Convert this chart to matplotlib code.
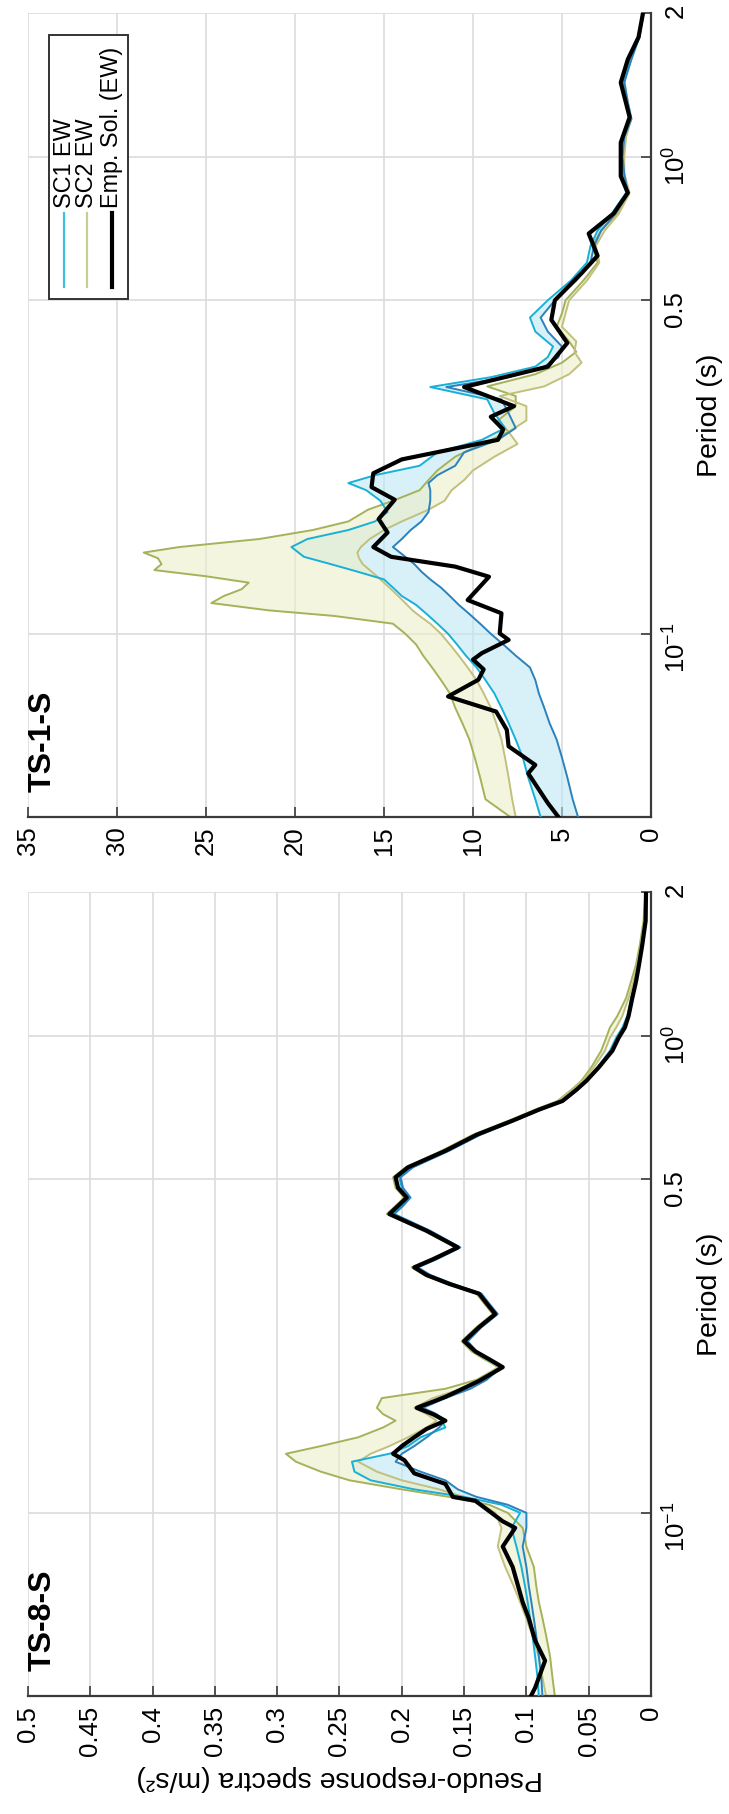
"""
plot.py - pseudo-response spectra, TS-1-S / TS-8-S (page rotated, period on the vertical axis)
"""

import numpy as np
import matplotlib
matplotlib.use('Agg')
import matplotlib.pyplot as plt
from matplotlib.patches import Rectangle
from matplotlib.lines import Line2D
from matplotlib.ticker import NullLocator

plt.rcParams['font.family'] = ['Liberation Sans', 'DejaVu Sans']
plt.rcParams['mathtext.fontset'] = 'custom'
plt.rcParams['mathtext.rm'] = 'Liberation Sans'
plt.rcParams['mathtext.it'] = 'Liberation Sans:italic'
plt.rcParams['mathtext.bf'] = 'Liberation Sans:bold'

# ====================================================================
# data: TS-1-S (m/s^2)
# ====================================================================
t1_sc1 = [0.0413, 0.045, 0.05, 0.055, 0.06, 0.065, 0.07, 0.075, 0.08, 0.085,
          0.09, 0.095, 0.1, 0.105, 0.11, 0.115, 0.12, 0.125, 0.13, 0.135,
          0.14, 0.145, 0.152, 0.158, 0.165, 0.172, 0.18, 0.19, 0.2, 0.207,
          0.215, 0.225, 0.24, 0.255, 0.27, 0.29, 0.31, 0.329, 0.345, 0.363,
          0.38, 0.4, 0.43, 0.46, 0.5, 0.55, 0.6, 0.65, 0.7, 0.76,
          0.84, 0.92, 1.0, 1.1, 1.2, 1.3, 1.43, 1.6, 1.78, 2.0]
ts1_sc1_a = [6.2, 6.5, 6.9, 7.2, 7.6, 8.0, 8.4, 8.8, 9.3, 9.8,
             10.4, 10.9, 11.4, 12.0, 12.6, 13.2, 14.0, 14.5, 15.0, 16.5,
             18.0, 19.5, 20.2, 19.3, 17.0, 15.5, 14.8, 15.2, 16.0, 17.0,
             15.5, 13.0, 12.0, 9.5, 8.2, 8.8, 9.2, 12.4, 9.0, 6.5,
             5.8, 5.5, 6.5, 6.8, 5.8, 4.5, 3.6, 3.4, 3.0, 2.2,
             1.4, 1.6, 1.7, 1.6, 1.2, 1.4, 1.6, 1.2, 0.7, 0.45]
ts1_sc1_b = [4.1, 4.4, 4.7, 5.0, 5.3, 5.7, 6.0, 6.3, 6.5, 6.8,
             7.6, 8.3, 9.0, 9.6, 10.2, 10.8, 11.3, 11.8, 12.4, 12.9,
             13.3, 13.8, 14.5, 14.0, 13.5, 12.9, 12.5, 12.4, 12.4, 12.5,
             12.0, 11.0, 10.5, 8.6, 7.6, 8.0, 8.4, 11.5, 8.0, 6.0,
             5.2, 5.0, 5.8, 6.2, 5.4, 4.2, 3.4, 3.2, 2.8, 2.0,
             1.3, 1.5, 1.6, 1.5, 1.1, 1.3, 1.5, 1.1, 0.65, 0.42]

t1_sc2 = [0.0413, 0.045, 0.05, 0.055, 0.06, 0.065, 0.07, 0.075, 0.08, 0.085,
          0.09, 0.095, 0.1, 0.105, 0.109, 0.112, 0.116, 0.12, 0.124, 0.128,
          0.132, 0.136, 0.14, 0.144, 0.148, 0.152, 0.158, 0.165, 0.172, 0.182,
          0.19, 0.2, 0.21, 0.22, 0.235, 0.25, 0.265, 0.28, 0.3, 0.315,
          0.33, 0.35, 0.37, 0.39, 0.41, 0.44, 0.47, 0.5, 0.55, 0.6,
          0.65, 0.7, 0.76, 0.84, 0.92, 1.0, 1.1, 1.2, 1.3, 1.45,
          1.6, 1.8, 2.0]
ts1_sc2_a = [7.9, 9.3, 9.6, 9.9, 10.2, 10.6, 11.0, 11.3, 11.8, 12.3,
             12.8, 13.2, 13.8, 14.5, 17.8, 21.5, 24.7, 24.0, 23.0, 22.6,
             25.0, 27.9, 27.5, 27.7, 28.5, 26.5, 22.0, 19.0, 17.0, 15.9,
             14.5, 13.0, 12.5, 12.0, 11.0, 9.5, 8.0, 8.6, 7.6, 7.6,
             9.2, 6.5, 5.0, 4.2, 4.6, 5.3, 5.0, 4.8, 3.8, 3.0,
             3.3, 2.8, 1.9, 1.3, 1.6, 1.6, 1.5, 1.2, 1.4, 1.6,
             1.2, 0.7, 0.45]
ts1_sc2_b = [7.6, 7.8, 8.0, 8.2, 8.4, 8.7, 9.0, 9.4, 9.8, 10.3,
             10.8, 11.3, 11.8, 12.4, 13.0, 13.4, 13.8, 14.2, 14.6, 15.0,
             15.4, 15.8, 16.2, 16.4, 16.5, 16.3, 15.8, 15.0, 14.0, 12.5,
             11.6, 11.2, 10.5, 10.0, 8.8, 7.5, 8.0, 7.0, 7.0, 8.5,
             6.0, 4.6, 3.9, 4.3, 4.2, 5.0, 4.8, 4.6, 3.6, 2.9,
             3.1, 2.6, 1.8, 1.2, 1.5, 1.5, 1.4, 1.1, 1.3, 1.5,
             1.1, 0.65, 0.42]

t1_emp = [0.0413, 0.0442, 0.051, 0.0531, 0.0581, 0.0629, 0.0687, 0.0739, 0.0801, 0.0842,
          0.0883, 0.0911, 0.0971, 0.1002, 0.1104, 0.1177, 0.1317, 0.1383, 0.145, 0.152,
          0.163, 0.174, 0.191, 0.203, 0.217, 0.232, 0.255, 0.268, 0.285, 0.30,
          0.329, 0.363, 0.407, 0.455, 0.50, 0.57, 0.62, 0.69, 0.76, 0.84,
          0.91, 1.07, 1.21, 1.43, 1.6, 1.78, 2.0]
ts1_emp = [5.2, 5.8, 6.9, 6.5, 8.0, 8.1, 8.7, 11.4, 9.7, 9.4,
           10.0, 9.5, 8.0, 8.5, 8.4, 10.3, 9.1, 11.0, 14.6, 15.6,
           14.8, 15.3, 14.4, 15.7, 15.6, 14.0, 8.6, 8.3, 9.0, 7.7,
           10.5, 5.8, 4.7, 5.6, 5.4, 3.9, 3.0, 3.5, 2.1, 1.3,
           1.7, 1.7, 1.2, 1.7, 1.3, 0.7, 0.45]

# ====================================================================
# data: TS-8-S (m/s^2)
# ====================================================================
t8_sc = [0.041, 0.045, 0.05, 0.055, 0.06, 0.065, 0.07, 0.077, 0.085, 0.093,
         0.1, 0.104, 0.108, 0.112, 0.117, 0.122, 0.128, 0.133, 0.138, 0.144,
         0.151, 0.156, 0.161, 0.166, 0.174, 0.182, 0.19, 0.202, 0.21, 0.218,
         0.229, 0.245, 0.261, 0.275, 0.288, 0.302, 0.315, 0.327, 0.34, 0.36,
         0.39, 0.423, 0.44, 0.458, 0.48, 0.505, 0.53, 0.574, 0.62, 0.664,
         0.7, 0.73, 0.77, 0.804, 0.858, 0.93, 0.99, 1.04, 1.1, 1.2,
         1.3, 1.41, 1.55, 1.74, 2.0]
ts8_sc1_a = [0.090, 0.091, 0.093, 0.095, 0.097, 0.099, 0.101, 0.104, 0.108, 0.112,
             0.105, 0.12, 0.15, 0.19, 0.225, 0.238, 0.24, 0.21, 0.195, 0.185,
             0.165, 0.168, 0.175, 0.185, 0.17, 0.15, 0.135, 0.121, 0.132, 0.142,
             0.148, 0.137, 0.124, 0.131, 0.137, 0.16, 0.178, 0.188, 0.173, 0.154,
             0.178, 0.207, 0.2, 0.194, 0.2, 0.202, 0.192, 0.163, 0.138, 0.11,
             0.089, 0.071, 0.06, 0.052, 0.043, 0.033, 0.028, 0.023, 0.019, 0.016,
             0.012, 0.01, 0.0075, 0.0048, 0.004]
ts8_sc1_b = [0.087, 0.088, 0.09, 0.092, 0.094, 0.096, 0.098, 0.1, 0.103, 0.1,
             0.1, 0.115, 0.14, 0.155, 0.165, 0.185, 0.205, 0.2, 0.19, 0.18,
             0.17, 0.165, 0.172, 0.183, 0.165, 0.145, 0.132, 0.12, 0.13, 0.14,
             0.147, 0.136, 0.123, 0.13, 0.136, 0.159, 0.177, 0.187, 0.172, 0.153,
             0.177, 0.206, 0.199, 0.193, 0.199, 0.201, 0.191, 0.162, 0.137, 0.109,
             0.088, 0.07, 0.059, 0.051, 0.042, 0.032, 0.027, 0.022, 0.018, 0.015,
             0.012, 0.0095, 0.007, 0.0045, 0.004]
ts8_sc2_a = [0.077, 0.079, 0.081, 0.084, 0.087, 0.09, 0.092, 0.094, 0.1, 0.103,
             0.115, 0.13, 0.162, 0.2, 0.242, 0.265, 0.285, 0.293, 0.265, 0.235,
             0.215, 0.205, 0.215, 0.22, 0.216, 0.165, 0.14, 0.122, 0.134, 0.144,
             0.152, 0.14, 0.127, 0.134, 0.14, 0.164, 0.182, 0.192, 0.177, 0.157,
             0.182, 0.212, 0.205, 0.198, 0.205, 0.207, 0.197, 0.168, 0.143, 0.114,
             0.093, 0.075, 0.064, 0.056, 0.048, 0.04, 0.036, 0.033, 0.027, 0.02,
             0.016, 0.012, 0.009, 0.006, 0.0045]
ts8_sc2_b = [0.084, 0.087, 0.09, 0.095, 0.1, 0.105, 0.11, 0.117, 0.123, 0.12,
             0.125, 0.135, 0.15, 0.17, 0.2, 0.22, 0.235, 0.225, 0.21, 0.195,
             0.18, 0.172, 0.18, 0.19, 0.175, 0.152, 0.137, 0.123, 0.133, 0.143,
             0.15, 0.139, 0.126, 0.133, 0.139, 0.163, 0.181, 0.191, 0.176, 0.156,
             0.181, 0.211, 0.204, 0.197, 0.204, 0.206, 0.196, 0.167, 0.142, 0.113,
             0.092, 0.074, 0.063, 0.055, 0.046, 0.037, 0.033, 0.028, 0.023, 0.018,
             0.014, 0.011, 0.008, 0.005, 0.0042]

t8_emp = [0.041, 0.043, 0.049, 0.054, 0.06, 0.065, 0.077, 0.085, 0.093, 0.096,
          0.1, 0.106, 0.108, 0.115, 0.121, 0.125, 0.129, 0.133, 0.138, 0.144,
          0.15, 0.156, 0.161, 0.166, 0.175, 0.189, 0.202, 0.21, 0.218, 0.229,
          0.245, 0.261, 0.275, 0.288, 0.302, 0.315, 0.327, 0.34, 0.36, 0.39,
          0.423, 0.44, 0.458, 0.48, 0.505, 0.53, 0.574, 0.62, 0.664, 0.7,
          0.73, 0.77, 0.804, 0.858, 0.93, 0.99, 1.04, 1.1, 1.2, 1.3,
          1.41, 1.55, 1.74, 2.0]
ts8_emp = [0.097, 0.093, 0.085, 0.093, 0.098, 0.103, 0.111, 0.119, 0.109, 0.119,
           0.128, 0.141, 0.159, 0.165, 0.19, 0.194, 0.198, 0.207, 0.2, 0.19,
           0.18, 0.165, 0.175, 0.188, 0.165, 0.138, 0.119, 0.13, 0.141, 0.15,
           0.138, 0.125, 0.132, 0.138, 0.162, 0.18, 0.19, 0.175, 0.155, 0.18,
           0.21, 0.203, 0.196, 0.203, 0.205, 0.195, 0.165, 0.14, 0.111, 0.09,
           0.071, 0.06, 0.052, 0.042, 0.031, 0.026, 0.021, 0.018, 0.015, 0.012,
           0.0096, 0.007, 0.0043, 0.004]

# ticks / labels
period_ticks = [0.1, 0.5, 1.0, 2.0]
period_labels = ['$10^{-1}$', '0.5', '$10^{0}$', '2']
ts1_ticks = [0, 5, 10, 15, 20, 25, 30, 35]
ts8_ticks = [0, 0.05, 0.1, 0.15, 0.2, 0.25, 0.3, 0.35, 0.4, 0.45, 0.5]
ts8_tick_labels = ['0', '0.05', '0.1', '0.15', '0.2', '0.25', '0.3', '0.35', '0.4', '0.45', '0.5']
legend_labels = ['SC1 EW', 'SC2 EW', 'Emp. Sol. (EW)']

# colours
C_SC1A = '#18b0d6'
C_SC1B = '#2b82bd'
C_SC2A = '#a6b25a'
C_SC2B = '#c2c07e'
C_FILL1 = '#bfe8f4'
C_FILL2 = '#ecefc8'
C_EMP = '#000000'
C_AX = '#3a3a3a'
C_GRID = '#dcdcdc'

TICK_FS = 18.5
LABEL_FS = 20.5


def draw_panel(ax, t_sc1, sc1_a, sc1_b, t_sc2, sc2_a, sc2_b, t_emp, emp, xmax, xticks, xlabels):
    """one spectrum panel: response on the (reversed) horizontal axis, period vertical"""
    ax.fill_betweenx(t_sc1, sc1_a, sc1_b, color=C_FILL1, alpha=0.6, lw=0, zorder=1)
    ax.fill_betweenx(t_sc2, sc2_a, sc2_b, color=C_FILL2, alpha=0.6, lw=0, zorder=1)
    ax.plot(sc2_a, t_sc2, color=C_SC2A, lw=1.4, zorder=2)
    ax.plot(sc2_b, t_sc2, color=C_SC2B, lw=1.4, zorder=2)
    ax.plot(sc1_a, t_sc1, color=C_SC1A, lw=1.4, zorder=3)
    ax.plot(sc1_b, t_sc1, color=C_SC1B, lw=1.4, zorder=3)
    ax.plot(emp, t_emp, color=C_EMP, lw=3.0, zorder=4)

    ax.set_yscale('log')
    ax.set_ylim(0.0413, 2.0)
    ax.set_xlim(xmax, 0)

    ax.set_yticks(period_ticks)
    ax.set_yticklabels(period_labels)
    ax.yaxis.set_minor_locator(NullLocator())
    ax.yaxis.tick_right()
    ax.set_xticks(xticks)
    ax.set_xticklabels(xlabels)

    ax.tick_params(axis='y', direction='in', length=7, width=1.2, color=C_AX,
                   labelsize=TICK_FS, pad=9, labelrotation=90)
    ax.tick_params(axis='x', direction='in', length=7, width=1.2, color=C_AX,
                   labelsize=TICK_FS, pad=7, labelrotation=90)

    ax.grid(True, which='major', color=C_GRID, lw=1.2, zorder=0)
    ax.set_axisbelow(True)
    for side in ('top', 'left'):
        ax.spines[side].set_visible(False)
    for side in ('bottom', 'right'):
        ax.spines[side].set_color(C_AX)
        ax.spines[side].set_linewidth(1.6)


fig = plt.figure(figsize=(7.29, 18.14), dpi=100)
ax1 = fig.add_axes([0.0384, 0.5496, 0.8546, 0.4432])   # TS-1-S
ax2 = fig.add_axes([0.0384, 0.0650, 0.8546, 0.4432])   # TS-8-S

draw_panel(ax1, t1_sc1, ts1_sc1_a, ts1_sc1_b, t1_sc2, ts1_sc2_a, ts1_sc2_b,
           t1_emp, ts1_emp, 35, ts1_ticks, [str(v) for v in ts1_ticks])
draw_panel(ax2, t8_sc, ts8_sc1_a, ts8_sc1_b, t8_sc, ts8_sc2_a, ts8_sc2_b,
           t8_emp, ts8_emp, 0.5, ts8_ticks, ts8_tick_labels)

# panel names
for ax, name in ((ax1, 'TS-1-S'), (ax2, 'TS-8-S')):
    ax.text(0.0, 0.031, name, rotation=90, ha='left', va='bottom',
            transform=ax.transAxes, fontsize=23, fontweight='bold', zorder=6)

# axis titles (page is rotated)
fig.text(710 / 729, 0.7712, 'Period (s)', rotation=90, ha='center', va='center', fontsize=LABEL_FS)
fig.text(710 / 729, 0.2867, 'Period (s)', rotation=90, ha='center', va='center', fontsize=LABEL_FS)
fig.text(0.4664, 0.0198, 'Pseudo-response spectra (m/s²)', rotation=180,
         ha='center', va='center', fontsize=LABEL_FS)

# legend drawn by hand so that it turns with the page
ax1.add_patch(Rectangle((0.0337, 0.6443), 0.1268, 0.3283, transform=ax1.transAxes,
                        facecolor='white', edgecolor='#333333', lw=1.4, zorder=7))
leg_x = [0.0578, 0.0947, 0.1348]
leg_style = [('#3cc3dd', 1.6), ('#c8cc96', 1.6), ('#000000', 3.0)]
for x, (col, lw), lab in zip(leg_x, leg_style, legend_labels):
    ax1.add_line(Line2D([x, x], [0.659, 0.751], color=col, lw=lw,
                        transform=ax1.transAxes, zorder=8))
    ax1.text(x, 0.757, lab, rotation=90, ha='center', va='bottom',
             transform=ax1.transAxes, fontsize=16.8, zorder=8)

fig.savefig('out.png', dpi=100)
plt.close(fig)
